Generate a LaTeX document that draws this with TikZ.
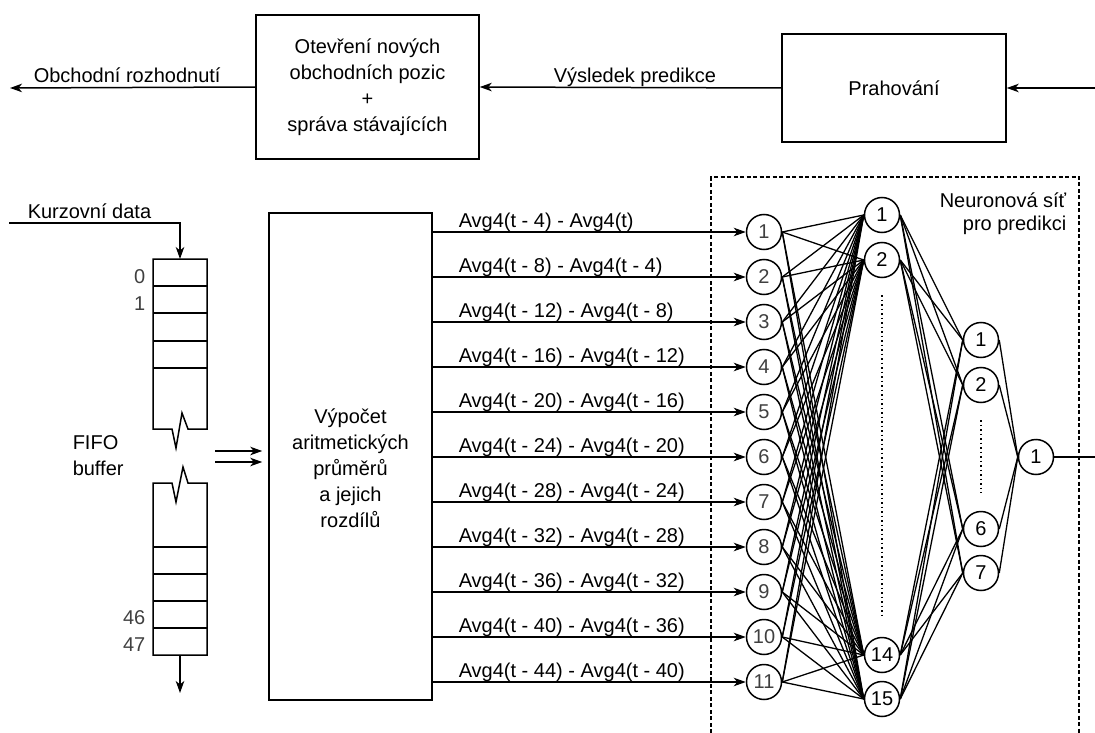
\documentclass[tikz,border=0pt]{standalone}
\usepackage{fontspec}
\setmainfont{Liberation Sans}
\usetikzlibrary{arrows.meta}
\definecolor{numgray}{HTML}{404040}
\begin{document}
\begin{tikzpicture}[x=1pt,y=-1pt, line width=1.5pt,
  font=\fontsize{20}{26}\selectfont,
  arr/.style={-{Stealth[length=12pt,width=8.5pt,inset=3.5pt]}},
  blockbox/.style={draw, inner sep=0pt, align=center},
  neuron/.style={draw, circle, minimum size=35pt, inner sep=0pt, fill=white},
  innum/.style={text=numgray},
  lbl/.style={inner sep=0pt, anchor=base west},
  idx/.style={inner sep=0pt, anchor=east, text=numgray},
  netbox/.style={dash pattern=on 4pt off 2.5pt, line width=1.1pt},
  dotline/.style={dash pattern=on 1.5pt off 3pt, line width=1.2pt},
  conn/.style={line width=1.3pt}]
\useasboundingbox (0,0) rectangle (1095,733);

% ---------- top row ----------
\node[blockbox, minimum width=223pt, minimum height=144pt] (open) at (367.5,87)
  {Otevření nových\\obchodních pozic\\+\\správa stávajících};
\node[blockbox, minimum width=224pt, minimum height=108pt] (prah) at (894,88) {Prahování};
\coordinate (topin) at (1095,88);
\coordinate (topout) at (10,88);
\draw[arr] (topin) -- (prah.east);
\draw[arr] (prah.west) -- (open.east);
\draw[arr] (open.west) -- (topout);
\node[lbl] (lobch) at (33,83) {Obchodní rozhodnutí};
\node[lbl] (lvys) at (553,83) {Výsledek predikce};

% ---------- FIFO buffer ----------
\coordinate (kd) at (9,223);
\coordinate (bufin) at (180,259);
\coordinate (bufout) at (180,655);
\coordinate (bufend) at (180,693);
\node[lbl] (lkurz) at (27,218) {Kurzovní data};
\draw[arr] (kd) -- (bufin |- kd) -- (bufin);
% upper part
\draw (153,429) -- (153,259) -- (207,259) -- (207,429) -- (188,429) -- (182,413) -- (176,448) -- (172,429) -- cycle;
\foreach \yy in {286,313,341,368} \draw (153,\yy) -- (207,\yy);
% lower part
\draw (153,483) -- (172,483) -- (176,502) -- (183,467) -- (188,483) -- (207,483) -- (207,655) -- (153,655) -- cycle;
\foreach \yy in {547,574,601,628} \draw (153,\yy) -- (207,\yy);
\draw[arr] (bufout) -- (bufend);
\node[idx] (i0) at (146,277) {0};
\node[idx] (i1) at (146,304) {1};
\node[idx] (i46) at (146,618) {46};
\node[idx] (i47) at (146,645) {47};
\node[inner sep=0pt, anchor=west, align=left] (fifo) at (72,456) {FIFO\\buffer};

% ---------- computation box ----------
\node[blockbox, minimum width=163pt, minimum height=487pt] (calc) at (350.5,456.5) {};
\node[inner sep=0pt, align=center] (calctext) at (350.5,468)
  {Výpočet\\aritmetických\\průměrů\\a jejich\\rozdílů};
\coordinate (da1) at (215,451);
\coordinate (da2) at (215,462);
\draw[arr, shorten >=6pt] (da1) -- (calc.west |- da1);
\draw[arr, shorten >=6pt] (da2) -- (calc.west |- da2);

% ---------- network ----------
\draw[netbox] (711,733) -- (711,177) -- (1079,177) -- (1079,733);
\node[inner sep=0pt, align=right, anchor=north east, font=\fontsize{20}{23}\selectfont] (nnlabel) at (1067,192)
  {Neuronová síť\\pro predikci};

\foreach \i in {1,...,11} {
  \pgfmathsetmacro{\yy}{232+45*(\i-1)}
  \node[neuron, innum] (in\i) at (764,\yy) {\i};
}
\node[neuron] (h1) at (882,215) {1};
\node[neuron] (h2) at (882,260) {2};
\node[neuron] (h14) at (882,655) {14};
\node[neuron] (h15) at (882,699) {15};
\node[neuron] (k1) at (981,340) {1};
\node[neuron] (k2) at (981,385) {2};
\node[neuron] (k6) at (981,529) {6};
\node[neuron] (k7) at (981,573) {7};
\node[neuron] (out) at (1036,457) {1};
\coordinate (netout) at (1095,457);

\foreach \i in {1,...,11}
  \foreach \h in {h1,h2,h14,h15}
    \draw[conn] (in\i.east) -- (\h.west);
\foreach \h in {h1,h2,h14,h15}
  \foreach \k in {k1,k2,k6,k7}
    \draw[conn] (\h.east) -- (\k.west);
\foreach \k in {k1,k2,k6,k7}
  \draw[conn] (\k.east) -- (out.west);
\draw (out.east) -- (netout);

\draw[dotline] (882,295) -- (882,615);
\draw[dotline] (981,420) -- (981,493);

% ---------- difference lines ----------
\foreach \i/\t in {
  1/{Avg4(t - 4) - Avg4(t)},
  2/{Avg4(t - 8) - Avg4(t - 4)},
  3/{Avg4(t - 12) - Avg4(t - 8)},
  4/{Avg4(t - 16) - Avg4(t - 12)},
  5/{Avg4(t - 20) - Avg4(t - 16)},
  6/{Avg4(t - 24) - Avg4(t - 20)},
  7/{Avg4(t - 28) - Avg4(t - 24)},
  8/{Avg4(t - 32) - Avg4(t - 28)},
  9/{Avg4(t - 36) - Avg4(t - 32)},
  10/{Avg4(t - 40) - Avg4(t - 36)},
  11/{Avg4(t - 44) - Avg4(t - 40)}} {
  \draw[arr] (calc.east |- in\i) -- (in\i.west);
  \pgfmathsetmacro{\ly}{227+45*(\i-1)}
  \node[lbl] (avg\i) at (458,\ly) {\t};
}
\end{tikzpicture}
\end{document}
